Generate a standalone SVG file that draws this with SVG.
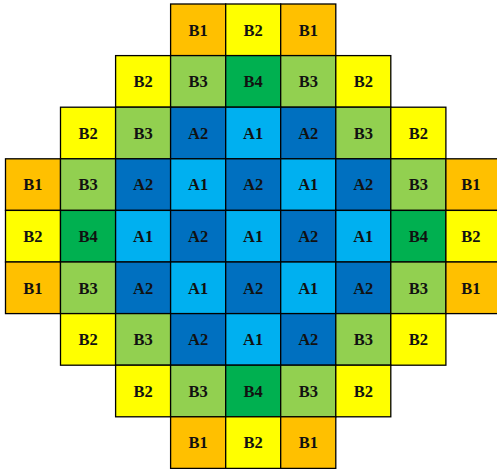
<svg xmlns="http://www.w3.org/2000/svg" width="497" height="469" viewBox="0 0 497 469">
<style>
rect{stroke:#000;stroke-width:1.3}
.B1{fill:#FFC000}.B2{fill:#FFFF00}.B3{fill:#92D050}.B4{fill:#00B050}.A1{fill:#00B0F0}.A2{fill:#0070C0}
text{font-family:"Liberation Serif","Times New Roman",serif;font-weight:bold;font-size:16.5px;text-anchor:middle;fill:#111}
</style>
<rect width="497" height="469" fill="#fff" style="stroke:none"/>
<g id="r0">
<g id="c0_3"><rect class="B1" x="170.6" y="4" width="55.1" height="51.6"/><text x="198.2" y="35.5">B1</text></g>
<g id="c0_4"><rect class="B2" x="225.7" y="4" width="55" height="51.6"/><text x="253.2" y="35.5">B2</text></g>
<g id="c0_5"><rect class="B1" x="280.7" y="4" width="55.1" height="51.6"/><text x="308.3" y="35.5">B1</text></g>
</g>
<g id="r1">
<g id="c1_2"><rect class="B2" x="115.6" y="55.6" width="55" height="51.6"/><text x="143.1" y="87.1">B2</text></g>
<g id="c1_3"><rect class="B3" x="170.6" y="55.6" width="55.1" height="51.6"/><text x="198.2" y="87.1">B3</text></g>
<g id="c1_4"><rect class="B4" x="225.7" y="55.6" width="55" height="51.6"/><text x="253.2" y="87.1">B4</text></g>
<g id="c1_5"><rect class="B3" x="280.7" y="55.6" width="55.1" height="51.6"/><text x="308.3" y="87.1">B3</text></g>
<g id="c1_6"><rect class="B2" x="335.8" y="55.6" width="55" height="51.6"/><text x="363.3" y="87.1">B2</text></g>
</g>
<g id="r2">
<g id="c2_1"><rect class="B2" x="60.5" y="107.2" width="55.1" height="51.6"/><text x="88.1" y="138.7">B2</text></g>
<g id="c2_2"><rect class="B3" x="115.6" y="107.2" width="55" height="51.6"/><text x="143.1" y="138.7">B3</text></g>
<g id="c2_3"><rect class="A2" x="170.6" y="107.2" width="55.1" height="51.6"/><text x="198.2" y="138.7">A2</text></g>
<g id="c2_4"><rect class="A1" x="225.7" y="107.2" width="55" height="51.6"/><text x="253.2" y="138.7">A1</text></g>
<g id="c2_5"><rect class="A2" x="280.7" y="107.2" width="55.1" height="51.6"/><text x="308.3" y="138.7">A2</text></g>
<g id="c2_6"><rect class="B3" x="335.8" y="107.2" width="55" height="51.6"/><text x="363.3" y="138.7">B3</text></g>
<g id="c2_7"><rect class="B2" x="390.8" y="107.2" width="55.1" height="51.6"/><text x="418.4" y="138.7">B2</text></g>
</g>
<g id="r3">
<g id="c3_0"><rect class="B1" x="5.5" y="158.8" width="55" height="51.6"/><text x="33" y="190.3">B1</text></g>
<g id="c3_1"><rect class="B3" x="60.5" y="158.8" width="55.1" height="51.6"/><text x="88.1" y="190.3">B3</text></g>
<g id="c3_2"><rect class="A2" x="115.6" y="158.8" width="55" height="51.6"/><text x="143.1" y="190.3">A2</text></g>
<g id="c3_3"><rect class="A1" x="170.6" y="158.8" width="55.1" height="51.6"/><text x="198.2" y="190.3">A1</text></g>
<g id="c3_4"><rect class="A2" x="225.7" y="158.8" width="55" height="51.6"/><text x="253.2" y="190.3">A2</text></g>
<g id="c3_5"><rect class="A1" x="280.7" y="158.8" width="55.1" height="51.6"/><text x="308.3" y="190.3">A1</text></g>
<g id="c3_6"><rect class="A2" x="335.8" y="158.8" width="55" height="51.6"/><text x="363.3" y="190.3">A2</text></g>
<g id="c3_7"><rect class="B3" x="390.8" y="158.8" width="55.1" height="51.6"/><text x="418.4" y="190.3">B3</text></g>
<g id="c3_8"><rect class="B1" x="445.9" y="158.8" width="55" height="51.6"/><text x="471" y="190.3">B1</text></g>
</g>
<g id="r4">
<g id="c4_0"><rect class="B2" x="5.5" y="210.4" width="55" height="51.6"/><text x="33" y="241.9">B2</text></g>
<g id="c4_1"><rect class="B4" x="60.5" y="210.4" width="55.1" height="51.6"/><text x="88.1" y="241.9">B4</text></g>
<g id="c4_2"><rect class="A1" x="115.6" y="210.4" width="55" height="51.6"/><text x="143.1" y="241.9">A1</text></g>
<g id="c4_3"><rect class="A2" x="170.6" y="210.4" width="55.1" height="51.6"/><text x="198.2" y="241.9">A2</text></g>
<g id="c4_4"><rect class="A1" x="225.7" y="210.4" width="55" height="51.6"/><text x="253.2" y="241.9">A1</text></g>
<g id="c4_5"><rect class="A2" x="280.7" y="210.4" width="55.1" height="51.6"/><text x="308.3" y="241.9">A2</text></g>
<g id="c4_6"><rect class="A1" x="335.8" y="210.4" width="55" height="51.6"/><text x="363.3" y="241.9">A1</text></g>
<g id="c4_7"><rect class="B4" x="390.8" y="210.4" width="55.1" height="51.6"/><text x="418.4" y="241.9">B4</text></g>
<g id="c4_8"><rect class="B2" x="445.9" y="210.4" width="55" height="51.6"/><text x="471" y="241.9">B2</text></g>
</g>
<g id="r5">
<g id="c5_0"><rect class="B1" x="5.5" y="262" width="55" height="51.6"/><text x="33" y="293.5">B1</text></g>
<g id="c5_1"><rect class="B3" x="60.5" y="262" width="55.1" height="51.6"/><text x="88.1" y="293.5">B3</text></g>
<g id="c5_2"><rect class="A2" x="115.6" y="262" width="55" height="51.6"/><text x="143.1" y="293.5">A2</text></g>
<g id="c5_3"><rect class="A1" x="170.6" y="262" width="55.1" height="51.6"/><text x="198.2" y="293.5">A1</text></g>
<g id="c5_4"><rect class="A2" x="225.7" y="262" width="55" height="51.6"/><text x="253.2" y="293.5">A2</text></g>
<g id="c5_5"><rect class="A1" x="280.7" y="262" width="55.1" height="51.6"/><text x="308.3" y="293.5">A1</text></g>
<g id="c5_6"><rect class="A2" x="335.8" y="262" width="55" height="51.6"/><text x="363.3" y="293.5">A2</text></g>
<g id="c5_7"><rect class="B3" x="390.8" y="262" width="55.1" height="51.6"/><text x="418.4" y="293.5">B3</text></g>
<g id="c5_8"><rect class="B1" x="445.9" y="262" width="55" height="51.6"/><text x="471" y="293.5">B1</text></g>
</g>
<g id="r6">
<g id="c6_1"><rect class="B2" x="60.5" y="313.6" width="55.1" height="51.6"/><text x="88.1" y="345.1">B2</text></g>
<g id="c6_2"><rect class="B3" x="115.6" y="313.6" width="55" height="51.6"/><text x="143.1" y="345.1">B3</text></g>
<g id="c6_3"><rect class="A2" x="170.6" y="313.6" width="55.1" height="51.6"/><text x="198.2" y="345.1">A2</text></g>
<g id="c6_4"><rect class="A1" x="225.7" y="313.6" width="55" height="51.6"/><text x="253.2" y="345.1">A1</text></g>
<g id="c6_5"><rect class="A2" x="280.7" y="313.6" width="55.1" height="51.6"/><text x="308.3" y="345.1">A2</text></g>
<g id="c6_6"><rect class="B3" x="335.8" y="313.6" width="55" height="51.6"/><text x="363.3" y="345.1">B3</text></g>
<g id="c6_7"><rect class="B2" x="390.8" y="313.6" width="55.1" height="51.6"/><text x="418.4" y="345.1">B2</text></g>
</g>
<g id="r7">
<g id="c7_2"><rect class="B2" x="115.6" y="365.2" width="55" height="51.6"/><text x="143.1" y="396.7">B2</text></g>
<g id="c7_3"><rect class="B3" x="170.6" y="365.2" width="55.1" height="51.6"/><text x="198.2" y="396.7">B3</text></g>
<g id="c7_4"><rect class="B4" x="225.7" y="365.2" width="55" height="51.6"/><text x="253.2" y="396.7">B4</text></g>
<g id="c7_5"><rect class="B3" x="280.7" y="365.2" width="55.1" height="51.6"/><text x="308.3" y="396.7">B3</text></g>
<g id="c7_6"><rect class="B2" x="335.8" y="365.2" width="55" height="51.6"/><text x="363.3" y="396.7">B2</text></g>
</g>
<g id="r8">
<g id="c8_3"><rect class="B1" x="170.6" y="416.8" width="55.1" height="51.6"/><text x="198.2" y="448.3">B1</text></g>
<g id="c8_4"><rect class="B2" x="225.7" y="416.8" width="55" height="51.6"/><text x="253.2" y="448.3">B2</text></g>
<g id="c8_5"><rect class="B1" x="280.7" y="416.8" width="55.1" height="51.6"/><text x="308.3" y="448.3">B1</text></g>
</g>
</svg>
